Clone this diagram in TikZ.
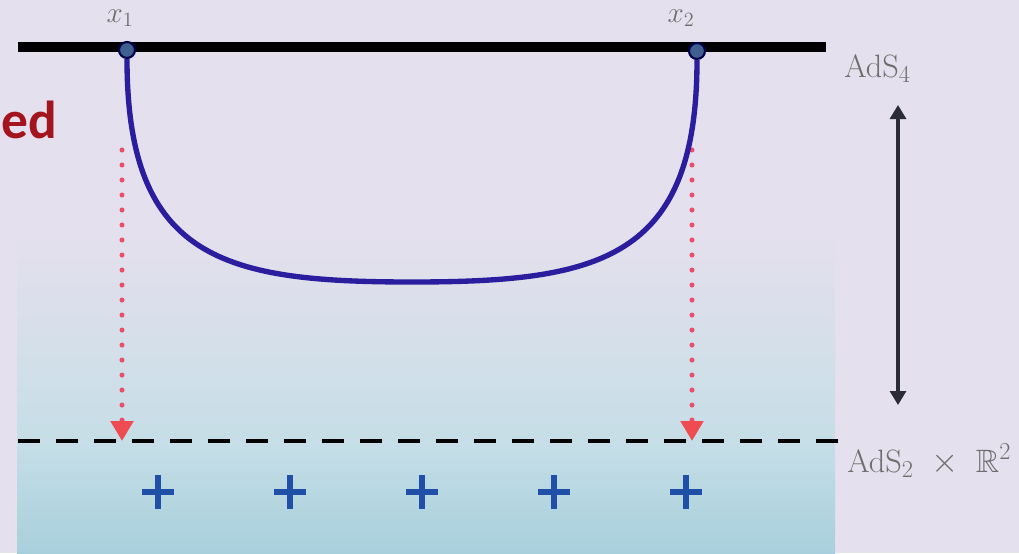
\documentclass[tikz,border=0pt]{standalone}
\usepackage{fontspec}
\usepackage{amssymb}
\usetikzlibrary{arrows.meta}
\newfontfamily\carlito{Carlito}
\definecolor{bgl}{HTML}{E5E0ED}
\definecolor{bgm}{HTML}{C6DEE7}
\definecolor{bgb}{HTML}{A8D0DC}
\definecolor{curveblue}{HTML}{2B1E9E}
\definecolor{dotred}{HTML}{E8506A}
\definecolor{tipred}{HTML}{EE4C50}
\definecolor{plusblue}{HTML}{1F4FA6}
\definecolor{dotfill}{HTML}{3F5F8F}
\definecolor{labgray}{HTML}{6E6E6E}
\definecolor{edred}{HTML}{A3141E}
\definecolor{arrowdark}{HTML}{2A2A38}
\begin{document}
\begin{tikzpicture}[x=0.025cm,y=-0.025cm,
  boundary/.style={line width=6.5pt, black},
  slice/.style={line width=3.5pt, black, dash pattern=on 0.55cm off 0.4cm},
  proj/.style={dotred, line width=3.6pt, line cap=round, dash pattern=on 0pt off 0.375cm,
     -{Triangle[width=0.55cm,length=0.5cm,color=tipred,fill=tipred]}},
  geod/.style={curveblue, line width=3.8pt},
  bdot/.style={circle, fill=dotfill, draw=black!70!blue, line width=1.5pt, minimum size=0.4cm, inner sep=0pt},
  lab/.style={text=labgray, font=\fontsize{23}{26}\selectfont, inner sep=0pt},
  xlab/.style={text=labgray, font=\fontsize{22}{25}\selectfont, inner sep=0pt},
  plussign/.style={plusblue, line width=3.8pt},
  radial/.style={line width=2.2pt, arrowdark, {Triangle[width=0.4cm,length=0.35cm]}-{Triangle[width=0.4cm,length=0.35cm]}}
]
\useasboundingbox (0,0) rectangle (1019,553);
% background
\fill[bgl] (0,0) rectangle (1019,553);
\shade[top color=bgl, bottom color=bgm] (17,230) rectangle (835,441);
\shade[top color=bgm, bottom color=bgb] (17,440) rectangle (835,553);
% coordinates
\coordinate (L1) at (18,47);
\coordinate (L2) at (826,47);
\coordinate (D1) at (18,441);
\coordinate (D2) at (842,441);
\coordinate (s1) at (122,150);
\coordinate (e1) at (122,441);
\coordinate (s2) at (692,150);
\coordinate (e2) at (692,441);
\coordinate (A1) at (898,105);
\coordinate (A2) at (898,405);
% lines
\draw[boundary] (L1) -- (L2);
\draw[slice] (D1) -- (D2);
% projections
\draw[proj] (s1) -- (e1);
\draw[proj] (s2) -- (e2);
% dots
\node[bdot] (d1) at (127,50) {};
\node[bdot] (d2) at (697,51) {};
% geodesic
\draw[geod] (d1.south) .. controls (127,260) and (225,282) .. (412,282)
   .. controls (599,282) and (697,260) .. (d2.south);
% labels
\node[xlab] (l1) at (120,18) {$x_1$};
\node[xlab] (l2) at (681,18) {$x_2$};
\node[lab, anchor=base west] (ads4) at (844,77) {AdS$_4$};
\node[lab, anchor=base west] (ads2) at (847,472) {AdS$_2\;\times\;\mathbb{R}^2$};
\node[anchor=base east, text=edred, font=\carlito\bfseries\fontsize{38}{40}\selectfont, inner sep=0pt] (ed) at (57,138) {ed};
% radial arrow
\draw[radial] (A1) -- (A2);
% plus signs
\foreach \px in {158,290,422,554,686}{
  \draw[plussign] ({\px-16},492) -- ({\px+16},492) ({\px},475) -- ({\px},509);
}
\end{tikzpicture}
\end{document}
